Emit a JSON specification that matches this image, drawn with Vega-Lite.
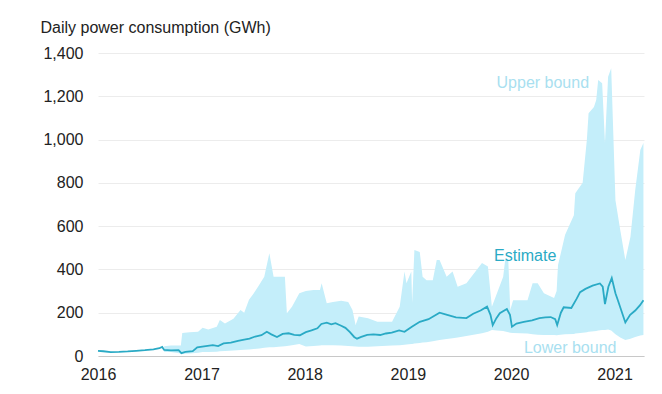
{
  "$schema": "https://vega.github.io/schema/vega-lite/v6.json",
  "width": 546,
  "height": 303,
  "autosize": {"type": "none"},
  "padding": {"left": 98, "top": 53, "right": 18, "bottom": 38},
  "background": "white",
  "config": {
    "view": {"stroke": null},
    "font": "Liberation Sans"
  },
  "datasets": {
    "est": [
      {"date": "2016-01-01", "v": 24}, {"date": "2016-01-20", "v": 22}, {"date": "2016-02-15", "v": 18}, {"date": "2016-03-15", "v": 19},
      {"date": "2016-04-15", "v": 21}, {"date": "2016-05-15", "v": 24}, {"date": "2016-06-15", "v": 27}, {"date": "2016-07-15", "v": 31},
      {"date": "2016-08-05", "v": 36}, {"date": "2016-08-15", "v": 42}, {"date": "2016-08-22", "v": 28}, {"date": "2016-09-15", "v": 26},
      {"date": "2016-10-12", "v": 27}, {"date": "2016-10-22", "v": 13}, {"date": "2016-11-05", "v": 19}, {"date": "2016-12-01", "v": 22},
      {"date": "2016-12-17", "v": 40}, {"date": "2017-01-10", "v": 44}, {"date": "2017-02-10", "v": 50}, {"date": "2017-03-01", "v": 46},
      {"date": "2017-03-20", "v": 58}, {"date": "2017-04-15", "v": 62}, {"date": "2017-05-10", "v": 70}, {"date": "2017-06-01", "v": 76},
      {"date": "2017-06-20", "v": 80}, {"date": "2017-07-10", "v": 90}, {"date": "2017-08-01", "v": 96}, {"date": "2017-08-20", "v": 112},
      {"date": "2017-09-05", "v": 100}, {"date": "2017-09-25", "v": 88}, {"date": "2017-10-15", "v": 102}, {"date": "2017-11-05", "v": 105},
      {"date": "2017-11-25", "v": 98}, {"date": "2017-12-15", "v": 96}, {"date": "2018-01-05", "v": 110}, {"date": "2018-01-25", "v": 118},
      {"date": "2018-02-15", "v": 128}, {"date": "2018-03-01", "v": 148}, {"date": "2018-03-20", "v": 154}, {"date": "2018-04-05", "v": 146},
      {"date": "2018-04-20", "v": 152}, {"date": "2018-05-10", "v": 140}, {"date": "2018-05-25", "v": 130}, {"date": "2018-06-10", "v": 110},
      {"date": "2018-06-25", "v": 88}, {"date": "2018-07-05", "v": 80}, {"date": "2018-07-20", "v": 88}, {"date": "2018-08-10", "v": 98},
      {"date": "2018-09-01", "v": 100}, {"date": "2018-09-25", "v": 97}, {"date": "2018-10-15", "v": 104}, {"date": "2018-11-05", "v": 108},
      {"date": "2018-12-01", "v": 118}, {"date": "2018-12-20", "v": 112}, {"date": "2019-01-15", "v": 135}, {"date": "2019-02-12", "v": 158},
      {"date": "2019-03-15", "v": 170}, {"date": "2019-04-23", "v": 200}, {"date": "2019-05-20", "v": 190}, {"date": "2019-06-20", "v": 178},
      {"date": "2019-07-27", "v": 175}, {"date": "2019-08-20", "v": 195}, {"date": "2019-09-15", "v": 210}, {"date": "2019-10-08", "v": 228},
      {"date": "2019-10-20", "v": 190}, {"date": "2019-10-28", "v": 143}, {"date": "2019-11-10", "v": 175}, {"date": "2019-11-22", "v": 198},
      {"date": "2019-12-17", "v": 217}, {"date": "2019-12-28", "v": 190}, {"date": "2020-01-04", "v": 135}, {"date": "2020-01-20", "v": 150},
      {"date": "2020-02-15", "v": 158}, {"date": "2020-03-15", "v": 165}, {"date": "2020-04-10", "v": 175}, {"date": "2020-05-01", "v": 178},
      {"date": "2020-05-20", "v": 180}, {"date": "2020-06-05", "v": 170}, {"date": "2020-06-12", "v": 143}, {"date": "2020-06-25", "v": 200},
      {"date": "2020-07-05", "v": 225}, {"date": "2020-08-01", "v": 222}, {"date": "2020-08-20", "v": 265}, {"date": "2020-09-01", "v": 295},
      {"date": "2020-09-20", "v": 310}, {"date": "2020-10-15", "v": 325}, {"date": "2020-11-10", "v": 335}, {"date": "2020-11-20", "v": 320},
      {"date": "2020-11-28", "v": 240}, {"date": "2020-12-10", "v": 320}, {"date": "2020-12-22", "v": 360}, {"date": "2021-01-04", "v": 290},
      {"date": "2021-01-12", "v": 260}, {"date": "2021-02-08", "v": 155}, {"date": "2021-02-25", "v": 190}, {"date": "2021-03-15", "v": 210},
      {"date": "2021-04-01", "v": 235}, {"date": "2021-04-13", "v": 258}
    ],
    "band": [
      {"date": "2016-08-22", "lo": 18, "hi": 45}, {"date": "2016-09-15", "lo": 18, "hi": 48}, {"date": "2016-10-20", "lo": 12, "hi": 48},
      {"date": "2016-10-25", "lo": 10, "hi": 106}, {"date": "2016-11-20", "lo": 12, "hi": 110}, {"date": "2016-12-20", "lo": 15, "hi": 112},
      {"date": "2017-01-05", "lo": 18, "hi": 130}, {"date": "2017-01-25", "lo": 19, "hi": 122}, {"date": "2017-02-24", "lo": 20, "hi": 135},
      {"date": "2017-03-07", "lo": 22, "hi": 166}, {"date": "2017-03-25", "lo": 23, "hi": 150}, {"date": "2017-04-24", "lo": 25, "hi": 172},
      {"date": "2017-05-19", "lo": 28, "hi": 212}, {"date": "2017-06-01", "lo": 29, "hi": 200}, {"date": "2017-06-18", "lo": 30, "hi": 260},
      {"date": "2017-07-05", "lo": 32, "hi": 290}, {"date": "2017-07-25", "lo": 35, "hi": 330}, {"date": "2017-08-11", "lo": 38, "hi": 366},
      {"date": "2017-08-29", "lo": 40, "hi": 475}, {"date": "2017-09-13", "lo": 41, "hi": 366}, {"date": "2017-10-01", "lo": 43, "hi": 366},
      {"date": "2017-10-23", "lo": 45, "hi": 366}, {"date": "2017-10-30", "lo": 46, "hi": 198}, {"date": "2017-11-17", "lo": 50, "hi": 228},
      {"date": "2017-12-13", "lo": 55, "hi": 290}, {"date": "2018-01-05", "lo": 44, "hi": 300}, {"date": "2018-02-01", "lo": 46, "hi": 305},
      {"date": "2018-02-24", "lo": 48, "hi": 305}, {"date": "2018-03-02", "lo": 50, "hi": 336}, {"date": "2018-03-20", "lo": 50, "hi": 244},
      {"date": "2018-04-11", "lo": 50, "hi": 250}, {"date": "2018-05-10", "lo": 48, "hi": 255}, {"date": "2018-06-04", "lo": 46, "hi": 250},
      {"date": "2018-06-19", "lo": 45, "hi": 212}, {"date": "2018-06-30", "lo": 44, "hi": 143}, {"date": "2018-07-11", "lo": 43, "hi": 182},
      {"date": "2018-08-13", "lo": 43, "hi": 175}, {"date": "2018-09-15", "lo": 45, "hi": 158}, {"date": "2018-11-06", "lo": 48, "hi": 158},
      {"date": "2018-12-03", "lo": 50, "hi": 228}, {"date": "2018-12-20", "lo": 52, "hi": 390}, {"date": "2018-12-27", "lo": 53, "hi": 336},
      {"date": "2019-01-13", "lo": 55, "hi": 390}, {"date": "2019-01-16", "lo": 56, "hi": 245}, {"date": "2019-01-24", "lo": 58, "hi": 490},
      {"date": "2019-02-12", "lo": 60, "hi": 480}, {"date": "2019-02-22", "lo": 62, "hi": 366}, {"date": "2019-03-08", "lo": 64, "hi": 350},
      {"date": "2019-03-30", "lo": 68, "hi": 350}, {"date": "2019-04-13", "lo": 72, "hi": 443}, {"date": "2019-04-23", "lo": 74, "hi": 443},
      {"date": "2019-05-18", "lo": 78, "hi": 366}, {"date": "2019-06-08", "lo": 82, "hi": 390}, {"date": "2019-06-26", "lo": 85, "hi": 320},
      {"date": "2019-07-27", "lo": 92, "hi": 336}, {"date": "2019-09-20", "lo": 105, "hi": 430}, {"date": "2019-10-11", "lo": 112, "hi": 413},
      {"date": "2019-10-25", "lo": 120, "hi": 228}, {"date": "2019-11-12", "lo": 118, "hi": 290}, {"date": "2019-12-04", "lo": 115, "hi": 366},
      {"date": "2019-12-11", "lo": 113, "hi": 443}, {"date": "2019-12-22", "lo": 110, "hi": 443}, {"date": "2019-12-29", "lo": 108, "hi": 212},
      {"date": "2020-01-08", "lo": 106, "hi": 258}, {"date": "2020-02-28", "lo": 104, "hi": 258}, {"date": "2020-03-17", "lo": 100, "hi": 336},
      {"date": "2020-04-04", "lo": 98, "hi": 336}, {"date": "2020-04-26", "lo": 97, "hi": 290}, {"date": "2020-06-01", "lo": 97, "hi": 268},
      {"date": "2020-06-10", "lo": 96, "hi": 300}, {"date": "2020-06-12", "lo": 96, "hi": 351}, {"date": "2020-06-15", "lo": 97, "hi": 420},
      {"date": "2020-07-10", "lo": 100, "hi": 560}, {"date": "2020-08-10", "lo": 102, "hi": 650}, {"date": "2020-08-15", "lo": 104, "hi": 752},
      {"date": "2020-09-10", "lo": 108, "hi": 800}, {"date": "2020-09-25", "lo": 110, "hi": 1000}, {"date": "2020-10-01", "lo": 112, "hi": 1122},
      {"date": "2020-10-20", "lo": 114, "hi": 1150}, {"date": "2020-10-28", "lo": 116, "hi": 1183}, {"date": "2020-11-04", "lo": 118, "hi": 1275},
      {"date": "2020-11-18", "lo": 120, "hi": 1260}, {"date": "2020-11-28", "lo": 120, "hi": 984}, {"date": "2020-12-09", "lo": 122, "hi": 1290},
      {"date": "2020-12-20", "lo": 118, "hi": 1330}, {"date": "2021-01-04", "lo": 100, "hi": 720}, {"date": "2021-01-21", "lo": 85, "hi": 582},
      {"date": "2021-02-08", "lo": 74, "hi": 443}, {"date": "2021-02-26", "lo": 80, "hi": 550}, {"date": "2021-03-15", "lo": 88, "hi": 767},
      {"date": "2021-04-02", "lo": 95, "hi": 952}, {"date": "2021-04-13", "lo": 97, "hi": 984}
    ],
    "labels": [
      {"date": "2020-04-22", "v": 1261, "text": "Upper bound", "kind": "bound"},
      {"date": "2020-02-20", "v": 462, "text": "Estimate", "kind": "estimate"},
      {"date": "2020-07-28", "v": 37, "text": "Lower bound", "kind": "bound"}
    ]
  },
  "layer": [
    {
      "data": {"name": "band"},
      "mark": {"type": "area", "color": "#c4eefa", "opacity": 1},
      "encoding": {
        "x": {
          "field": "date", "type": "temporal",
          "scale": {"domain": [{"year": 2016, "month": 1, "date": 1}, {"year": 2021, "month": 4, "date": 15}], "nice": false},
          "axis": {
            "title": null, "format": "%Y", "tickCount": {"interval": "year", "step": 1},
            "grid": false, "ticks": false, "domain": true, "domainColor": "#c8c8c8", "domainWidth": 1,
            "labelFont": "Liberation Sans", "labelFontSize": 16, "labelColor": "#222222",
            "labelPadding": 10, "labelFlush": false, "labelOverlap": false
          }
        },
        "y": {
          "field": "lo", "type": "quantitative",
          "scale": {"domain": [0, 1400], "nice": false},
          "axis": {
            "values": [0, 200, 400, 600, 800, 1000, 1200, 1400], "format": ",.0f",
            "title": "Daily power consumption (GWh)", "titleAngle": 0, "titleX": -58, "titleY": -21,
            "titleAlign": "left", "titleBaseline": "alphabetic", "titleFont": "Liberation Sans",
            "titleFontSize": 16, "titleFontWeight": "normal", "titleColor": "#222222",
            "grid": true, "gridColor": "#ececec", "gridWidth": 1, "ticks": false, "domain": false,
            "labelFont": "Liberation Sans", "labelFontSize": 16, "labelColor": "#222222", "labelPadding": 15
          }
        },
        "y2": {"field": "hi"}
      }
    },
    {
      "data": {"name": "est"},
      "mark": {"type": "line", "color": "#2aaac5", "strokeWidth": 1.8},
      "encoding": {
        "x": {"field": "date", "type": "temporal"},
        "y": {"field": "v", "type": "quantitative"}
      }
    },
    {
      "data": {"name": "labels"},
      "mark": {"type": "text", "font": "Liberation Sans", "fontSize": 16, "align": "center", "baseline": "middle"},
      "encoding": {
        "x": {"field": "date", "type": "temporal"},
        "y": {"field": "v", "type": "quantitative"},
        "text": {"field": "text"},
        "color": {"field": "kind", "type": "nominal", "scale": {"domain": ["bound", "estimate"], "range": ["#a9dff0", "#2aaac5"]}, "legend": null}
      }
    }
  ]
}
